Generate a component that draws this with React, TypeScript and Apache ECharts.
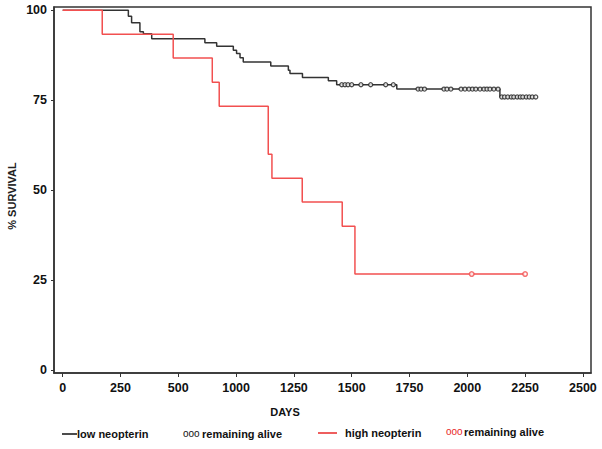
import React, { useEffect, useRef } from "react";
import * as echarts from "echarts";

// x-axis tick positions (axis units) and the labels printed under them
const xTickValues = [0, 250, 500, 750, 1000, 1250, 1500, 1750, 2000, 2250];
const xTickLabels = ["0", "250", "500", "1000", "1250", "1500", "1750", "2000", "2250", "2500"];
const yTickValues = [0, 25, 50, 75, 100];

// Kaplan–Meier steps: [day, % survival]
const lowNeopterin: [number, number][] = [
  [0, 100], [284, 98.3], [298, 96.5], [334, 94.0], [349, 93.5], [385, 92.1],
  [615, 91.0], [666, 90.0], [738, 88.9], [752, 88.0], [767, 86.8], [781, 85.6],
  [900, 84.5], [976, 83.3], [983, 82.4], [1037, 81.3], [1149, 80.4], [1185, 79.3],
  [1445, 78.1], [1891, 75.9], [2046, 75.9],
];
const lowCensored: [number, number][] = [
  [1207, 79.3], [1221, 79.3], [1234, 79.3], [1250, 79.3], [1290, 79.3], [1332, 79.3],
  [1397, 79.3], [1430, 79.3],
  [1537, 78.1], [1550, 78.1], [1565, 78.1], [1649, 78.1], [1662, 78.1], [1679, 78.1],
  [1723, 78.1], [1740, 78.1], [1757, 78.1], [1772, 78.1], [1787, 78.1], [1805, 78.1],
  [1822, 78.1], [1835, 78.1], [1848, 78.1], [1865, 78.1], [1883, 78.1],
  [1899, 75.9], [1911, 75.9], [1925, 75.9], [1940, 75.9], [1951, 75.9], [1966, 75.9],
  [1979, 75.9], [1990, 75.9], [2005, 75.9], [2018, 75.9], [2031, 75.9], [2046, 75.9],
];
const highNeopterin: [number, number][] = [
  [0, 100], [171, 93.3], [478, 86.7], [647, 80.0], [677, 73.3], [889, 60.0],
  [905, 53.3], [1036, 46.7], [1209, 40.0], [1264, 26.7], [2000, 26.7],
];
const highCensored: [number, number][] = [[1769, 26.7], [2000, 26.7]];

const BLACK = "#333333";
const RED = "#f25050";
const FONT = "'Liberation Sans', Arial, sans-serif";

export default function App() {
  const ref = useRef<HTMLDivElement>(null);
  useEffect(() => {
    if (!ref.current) return;
    const chart = echarts.init(ref.current, undefined, { renderer: "svg" });
    chart.setOption({
      animation: false,
      backgroundColor: "#ffffff",
      grid: {
        left: 54, right: 11, top: 7, bottom: 76,
        show: true, borderColor: BLACK, borderWidth: 1.5,
      },
      xAxis: {
        type: "value",
        min: -37.6,
        max: 2285,
        splitLine: { show: false },
        axisLine: { show: true, onZero: false, lineStyle: { color: BLACK, width: 1.5 } },
        axisTick: { show: true, length: 4, customValues: xTickValues, lineStyle: { color: BLACK } },
        axisLabel: {
          customValues: xTickValues,
          margin: 8,
          color: "#111",
          fontFamily: FONT,
          fontWeight: "bold",
          fontSize: 12.5,
          formatter: (v: number) => {
            const i = xTickValues.indexOf(Math.round(v));
            return i >= 0 ? xTickLabels[i] : "";
          },
        },
      },
      yAxis: {
        type: "value",
        min: -0.8,
        max: 100.9,
        splitLine: { show: false },
        axisLine: { show: true, onZero: false, lineStyle: { color: BLACK, width: 1.5 } },
        axisTick: { show: true, length: 3, customValues: yTickValues, lineStyle: { color: BLACK } },
        axisLabel: {
          customValues: yTickValues,
          margin: 7,
          color: "#111",
          fontFamily: FONT,
          fontWeight: "bold",
          fontSize: 12.5,
          formatter: (v: number) => String(Math.round(v)),
        },
      },
      series: [
        {
          type: "line", step: "end", data: lowNeopterin, showSymbol: false,
          lineStyle: { color: BLACK, width: 1.5 }, z: 3,
        },
        {
          type: "scatter", data: lowCensored, symbol: "circle", symbolSize: 4,
          itemStyle: { color: "#ffffff", borderColor: "#222", borderWidth: 1.3 }, z: 4,
        },
        {
          type: "line", step: "end", data: highNeopterin, showSymbol: false,
          lineStyle: { color: RED, width: 1.5 }, z: 3,
        },
        {
          type: "scatter", data: highCensored, symbol: "circle", symbolSize: 4.5,
          itemStyle: { color: "#ffffff", borderColor: RED, borderWidth: 1.5 }, z: 4,
        },
      ],
      graphic: [
        {
          type: "text", x: 285, y: 412,
          style: { text: "DAYS", fontFamily: FONT, fontWeight: "bold", fontSize: 11, fill: "#111", align: "center", verticalAlign: "middle" },
        },
        {
          type: "text", x: 12, y: 196, rotation: Math.PI / 2,
          style: { text: "% SURVIVAL", fontFamily: FONT, fontWeight: "bold", fontSize: 11, fill: "#222", align: "center", verticalAlign: "middle" },
        },
        { type: "line", shape: { x1: 62, y1: 434, x2: 77, y2: 434 }, style: { stroke: "#111", lineWidth: 1.5 } },
        {
          type: "text", x: 77, y: 434,
          style: { text: "low neopterin", fontFamily: FONT, fontWeight: "bold", fontSize: 11, fill: "#111", align: "left", verticalAlign: "middle" },
        },
        {
          type: "text", x: 183, y: 433,
          style: { text: "ooo", fontFamily: FONT, fontSize: 10, fill: "#111", align: "left", verticalAlign: "middle" },
        },
        {
          type: "text", x: 202, y: 434,
          style: { text: "remaining alive", fontFamily: FONT, fontWeight: "bold", fontSize: 11, fill: "#111", align: "left", verticalAlign: "middle" },
        },
        { type: "line", shape: { x1: 318, y1: 433, x2: 337, y2: 433 }, style: { stroke: "#e82828", lineWidth: 1.5 } },
        {
          type: "text", x: 345, y: 433,
          style: { text: "high neopterin", fontFamily: FONT, fontWeight: "bold", fontSize: 11, fill: "#111", align: "left", verticalAlign: "middle" },
        },
        {
          type: "text", x: 446, y: 431,
          style: { text: "ooo", fontFamily: FONT, fontSize: 10, fill: "#e82828", align: "left", verticalAlign: "middle" },
        },
        {
          type: "text", x: 464, y: 432,
          style: { text: "remaining alive", fontFamily: FONT, fontWeight: "bold", fontSize: 11, fill: "#111", align: "left", verticalAlign: "middle" },
        },
      ],
    });
    return () => chart.dispose();
  }, []);
  return <div ref={ref} style={{ width: 602, height: 449, position: "absolute", left: 0, top: 0 }} />;
}
